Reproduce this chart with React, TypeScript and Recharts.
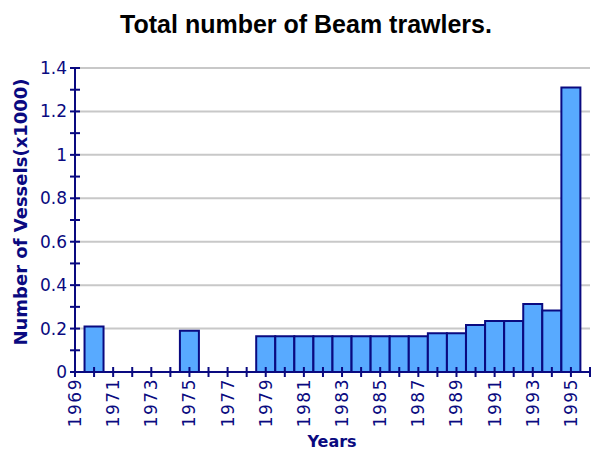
import React from 'react';
import { BarChart, Bar, XAxis, YAxis, CartesianGrid } from 'recharts';

const years = [1970, 1975, 1979, 1980, 1981, 1982, 1983, 1984, 1985, 1986, 1987, 1988, 1989, 1990, 1991, 1992, 1993, 1994, 1995];
const vessels = [0.21, 0.19, 0.165, 0.165, 0.165, 0.165, 0.165, 0.165, 0.165, 0.165, 0.165, 0.178, 0.178, 0.217, 0.235, 0.235, 0.313, 0.283, 1.31];

const yearTicks = [1969, 1970, 1971, 1972, 1973, 1974, 1975, 1976, 1977, 1978, 1979, 1980, 1981, 1982, 1983, 1984, 1985, 1986, 1987, 1988, 1989, 1990, 1991, 1992, 1993, 1994, 1995, 1996];
const labelledYears = [1969, 1971, 1973, 1975, 1977, 1979, 1981, 1983, 1985, 1987, 1989, 1991, 1993, 1995];
const yTicks = [0, 0.1, 0.2, 0.3, 0.4, 0.5, 0.6, 0.7, 0.8, 0.9, 1, 1.1, 1.2, 1.3, 1.4];
const yLabels = [0, 0.2, 0.4, 0.6, 0.8, 1, 1.2, 1.4];

const data = years.map((year, i) => ({ year, value: vessels[i] }));

const NAVY = '#0a0a80';
const tickFont = '"DejaVu Sans", Verdana, sans-serif';

const YTick = (props: any) => {
  const { x, y, payload } = props;
  const v = Math.round(payload.value * 10) / 10;
  const show = yLabels.some((l) => Math.abs(l - v) < 1e-6);
  return (
    <g>
      <line x1={x - 5} x2={x + 5} y1={y} y2={y} stroke={NAVY} strokeWidth={2} />
      {show && (
        <text x={x - 8} y={y} textAnchor="end" dominantBaseline="central" fill={NAVY} fontSize={17} fontFamily={tickFont}>
          {String(v)}
        </text>
      )}
    </g>
  );
};

const XTick = (props: any) => {
  const { x, y, payload } = props;
  const show = labelledYears.includes(payload.value);
  return (
    <g>
      <line x1={x} x2={x} y1={y - 5} y2={y + 5} stroke={NAVY} strokeWidth={2} />
      {show && (
        <text
          x={x}
          y={y + 6}
          transform={`rotate(-90, ${x}, ${y + 6})`}
          textAnchor="end"
          dominantBaseline="central"
          fill={NAVY}
          fontSize={17}
          fontFamily={tickFont}
          letterSpacing={1.5}
        >
          {payload.value}
        </text>
      )}
    </g>
  );
};

export default function App() {
  return (
    <div style={{ position: 'absolute', left: 0, top: 0, width: 592, height: 452, background: '#fff' }}>
      <div
        style={{
          position: 'absolute', left: 20, top: 12, width: 572, textAlign: 'center',
          fontFamily: '"Liberation Sans", Arial, sans-serif', fontWeight: 'bold', fontSize: 25, lineHeight: '25px', color: '#000',
        }}
      >
        Total number of Beam trawlers.
      </div>
      <div
        style={{
          position: 'absolute', left: 21 - 160, top: 212 - 10, width: 320, height: 20, lineHeight: '20px',
          textAlign: 'center', transform: 'rotate(-90deg)', fontFamily: tickFont, fontWeight: 'bold', fontSize: 18, color: NAVY,
          zIndex: 2,
        }}
      >
        Number of Vessels(x1000)
      </div>
      <div
        style={{
          position: 'absolute', left: 232, top: 432, width: 200, textAlign: 'center', lineHeight: '20px',
          fontFamily: tickFont, fontWeight: 'bold', fontSize: 16, color: NAVY, zIndex: 2,
        }}
      >
        Years
      </div>
      <BarChart width={592} height={452} data={data} margin={{ top: 68, right: 2, bottom: 0, left: 0 }} barCategoryGap={0}>
        <CartesianGrid vertical={false} horizontalValues={[0.2, 0.4, 0.6, 0.8, 1, 1.2, 1.4]} stroke="#c8c8c8" strokeWidth={2} />
        <XAxis
          type="number"
          dataKey="year"
          domain={[1969, 1996]}
          ticks={yearTicks}
          interval={0}
          height={80}
          tickSize={0}
          tickMargin={0}
          tickLine={false}
          axisLine={{ stroke: NAVY, strokeWidth: 2 }}
          tick={(p: any) => <XTick {...p} />}
        />
        <YAxis
          type="number"
          domain={[0, 1.4]}
          ticks={yTicks}
          interval={0}
          width={75}
          tickSize={0}
          tickMargin={0}
          tickLine={false}
          axisLine={{ stroke: NAVY, strokeWidth: 2 }}
          tick={(p: any) => <YTick {...p} />}
        />
        <Bar dataKey="value" fill="#58aaff" stroke={NAVY} strokeWidth={2} barSize={19} isAnimationActive={false} />
      </BarChart>
    </div>
  );
}
